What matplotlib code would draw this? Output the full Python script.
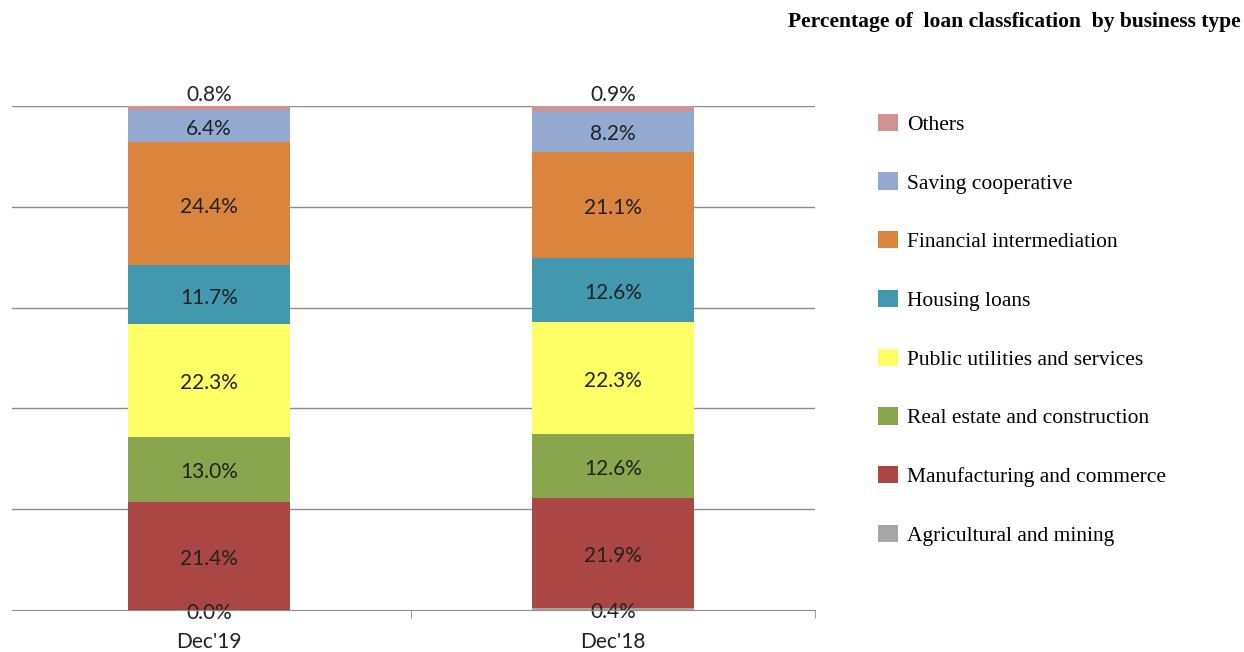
import matplotlib
matplotlib.use('Agg')
import matplotlib.pyplot as plt
from matplotlib.patches import Patch
import numpy as np

# Data
periods = ["Dec'19", "Dec'18"]
categories = [
    'Agricultural and mining',
    'Manufacturing and commerce',
    'Real estate and construction',
    'Public utilities and services',
    'Housing loans',
    'Financial intermediation',
    'Saving cooperative',
    'Others',
]
values_dec19 = [0.0, 21.4, 13.0, 22.3, 11.7, 24.4, 6.4, 0.8]
values_dec18 = [0.4, 21.9, 12.6, 22.3, 12.6, 21.1, 8.2, 0.9]
colors = ['#A6A6A6', '#AA4643', '#89A54E', '#FFFF66',
          '#4198AF', '#DB843D', '#93A9CF', '#D19392']

label_font = ['Lato', 'DejaVu Sans']
serif_font = ['Liberation Serif', 'DejaVu Serif']

fig = plt.figure(figsize=(12.44, 6.52), dpi=100)
ax = fig.add_axes([0.0096, 0.0644, 0.6455, 0.7730])

x = np.arange(len(periods))
data = np.array([values_dec19, values_dec18])
bottoms = np.zeros(len(periods))
for i, cat in enumerate(categories):
    vals = data[:, i]
    ax.bar(x, vals, width=0.4, bottom=bottoms, color=colors[i], zorder=3)
    for j in range(len(periods)):
        if cat == 'Others':
            # small top slice: label sits above the bar
            ypos = bottoms[j] + vals[j] + 2.2
        else:
            ypos = bottoms[j] + vals[j] / 2 - 0.6
        ax.text(x[j], ypos, f'{vals[j]:.1f}%', ha='center', va='center',
                fontsize=15, family=label_font, color='#222222', zorder=4)
    bottoms += vals

ax.set_xlim(-0.488, 1.5)
ax.set_ylim(0, 100)
ax.set_yticks([])
for yv in [20, 40, 60, 80, 100]:
    ax.axhline(yv, color='#8C8C8C', lw=1, zorder=1)
for s in ['left', 'right', 'top']:
    ax.spines[s].set_visible(False)
ax.spines['bottom'].set_color('#8C8C8C')
ax.spines['bottom'].set_zorder(5)
ax.set_xticks(x)
ax.set_xticklabels(periods, family=label_font, fontsize=15, color='#222222')
ax.tick_params(axis='x', which='major', length=0, pad=16)
ax.set_xticks([0.5, 1.5], minor=True)
ax.tick_params(axis='x', which='minor', length=6, color='#8C8C8C', direction='out')

handles = [Patch(facecolor=colors[i], label=categories[i])
           for i in range(len(categories))][::-1]
fig.legend(handles=handles, loc='upper left', bbox_to_anchor=(0.6902, 0.8552),
           frameon=False, prop={'family': serif_font, 'size': 15.5},
           labelspacing=1.75, handlelength=0.95, handleheight=0.85,
           handletextpad=0.42)

fig.text(0.997, 0.966, 'Percentage of  loan classfication  by business type',
         ha='right', va='center', family=serif_font, fontsize=15.5,
         fontweight='bold')

fig.savefig('out.png', dpi=100)
